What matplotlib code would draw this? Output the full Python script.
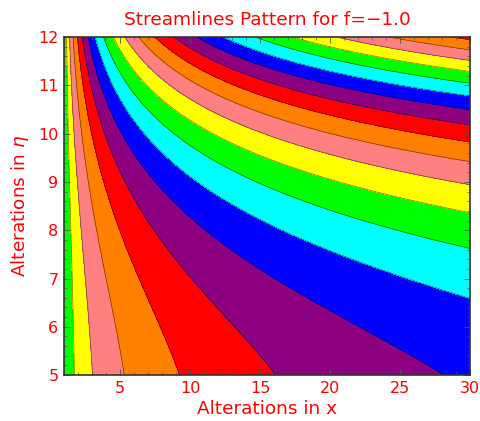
import matplotlib
matplotlib.use("Agg")
import matplotlib.pyplot as plt
import numpy as np
from matplotlib.ticker import MultipleLocator

plt.rcParams['font.family'] = ['DejaVu Sans']
plt.rcParams['mathtext.fontset'] = 'dejavusans'

# height (eta) where each streamline band boundary meets the right edge x = 30,
# plus readings near the bottom edge; band_width = ln(x) per band there
eta_rows = [5.0, 5.93, 6.58, 7.58, 8.44, 8.92, 9.37, 9.82, 10.17, 10.51,
            10.82, 11.06, 11.30, 11.51, 11.72, 11.92]
band_width = [0.555, 0.522, 0.486, 0.425, 0.378, 0.340, 0.309, 0.283, 0.262, 0.243,
              0.227, 0.213, 0.200, 0.189, 0.179, 0.170]

# colours cycle band by band, starting at x = 1
band_colors = ["#00FF00", "#FFFF00", "#FF8080", "#FF8000",
               "#FF0000", "#8C0080", "#0000FF", "#00FFFF"]

x_range = (1, 30)
eta_range = (5, 12)

# smooth fit through the measured widths
coef = np.polyfit(eta_rows, band_width, 3)

x = np.geomspace(*x_range, 1500)
eta = np.linspace(*eta_range, 700)
X, E = np.meshgrid(x, eta)
Z = np.log(X) / np.polyval(coef, E)

n_bands = int(np.ceil(Z.max())) + 1
levels = [-1] + list(range(1, n_bands + 1))
colors = [band_colors[i % len(band_colors)] for i in range(len(levels) - 1)]

fig = plt.figure(figsize=(4.81, 4.21), dpi=100)
ax = fig.add_axes([0.133, 0.109, 0.844, 0.803])

ax.contourf(X, E, Z, levels=levels, colors=colors)
ax.contour(X, E, Z, levels=levels[1:], colors="k", linewidths=0.5, alpha=0.55)

ax.set_xlim(*x_range)
ax.set_ylim(*eta_range)
ax.xaxis.set_major_locator(MultipleLocator(5))
ax.xaxis.set_minor_locator(MultipleLocator(1))
ax.yaxis.set_major_locator(MultipleLocator(1))
ax.yaxis.set_minor_locator(MultipleLocator(0.2))
ax.tick_params(which="both", direction="in", top=True, right=True,
               colors="#555555", labelcolor="red", labelsize=11.5)
ax.tick_params(which="major", length=4, width=0.6, pad=4)
ax.tick_params(which="minor", length=2, width=0.5)
for sp in ax.spines.values():
    sp.set_color("#333333")
    sp.set_linewidth(1.2)

ax.set_title("Streamlines Pattern for f=\u22121.0", color="red", fontsize=13.3, pad=9)
ax.set_xlabel("Alterations in x", color="red", fontsize=13.3, labelpad=3)
ax.set_ylabel("Alterations in $\\eta$", color="red", fontsize=13.3, labelpad=5)

fig.savefig("out.png", dpi=100)
